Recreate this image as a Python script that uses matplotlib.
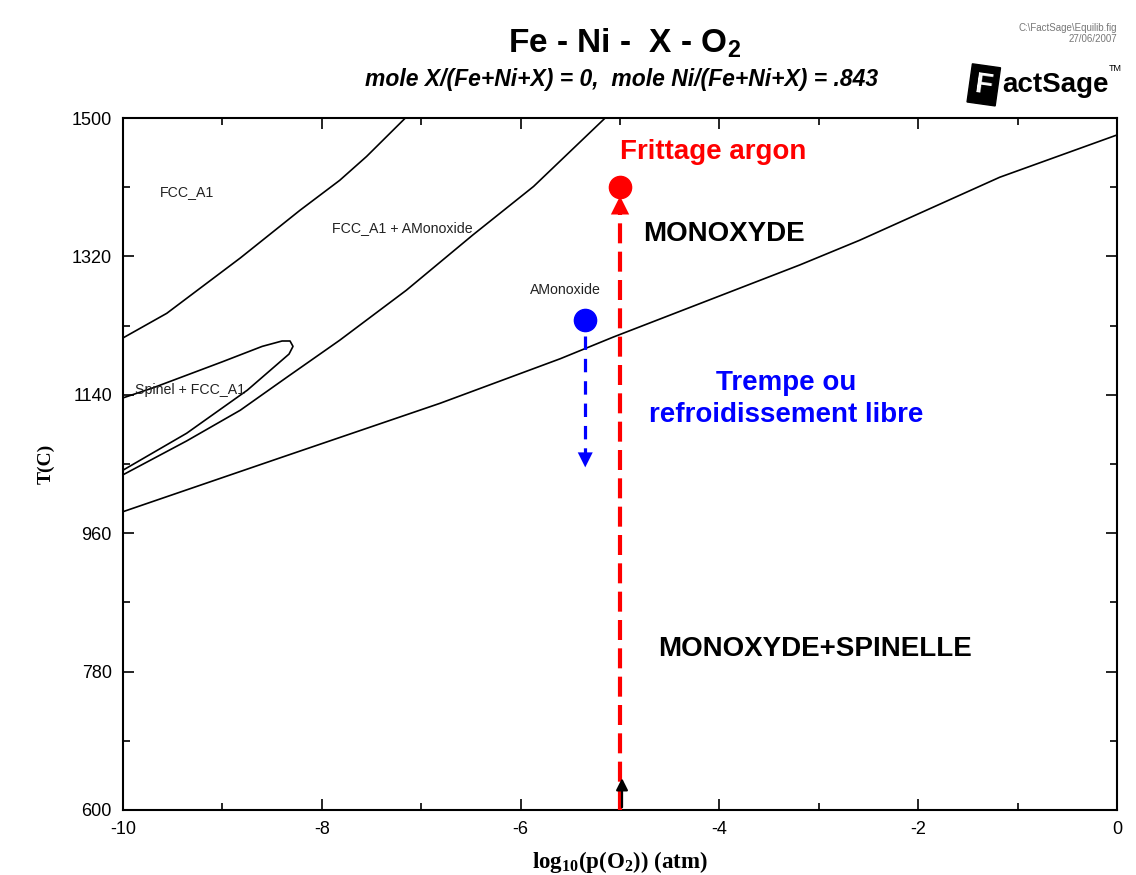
import matplotlib
matplotlib.use('Agg')
import matplotlib.pyplot as plt
from matplotlib.ticker import MultipleLocator

plt.rcParams['font.family'] = ['Liberation Sans', 'DejaVu Sans']
plt.rcParams['axes.unicode_minus'] = False
plt.rcParams['mathtext.fontset'] = 'custom'
plt.rcParams['mathtext.rm'] = 'Liberation Serif:bold'
plt.rcParams['mathtext.bf'] = 'Liberation Sans:bold'

# phase boundaries: log10(pO2), T(C)
fcc_x = [-10, -9.56, -8.82, -8.22, -7.82, -7.55, -7.16]
fcc_T = [1214, 1246, 1318, 1380, 1419, 1450, 1500]

mono_x = [-10, -9.36, -8.82, -8.35, -7.82, -7.15, -6.48, -5.87, -5.15]
mono_T = [1036, 1080, 1120, 1163, 1211, 1276, 1348, 1411, 1500]

spinel_x = [-10, -8.42, -6.81, -5.6, -5.07, -3.19, -2.59, -1.18, 0]
spinel_T = [988, 1058, 1129, 1187, 1215, 1309, 1341, 1423, 1478]

# small Spinel + FCC_A1 loop (upper branch, tip, lower branch)
loop_x = [-10, -9.7, -9.0, -8.6, -8.4, -8.32, -8.29, -8.33, -8.75, -9.36, -10]
loop_T = [1136, 1149, 1183, 1203, 1210, 1210, 1203, 1193, 1146, 1090, 1042]

# process paths
frittage_x = -5.0
frittage_T = [600, 1410]
trempe_x = -5.35
trempe_T = [1237, 1042]

fig = plt.figure(figsize=(11.36, 8.75), dpi=100)
ax = fig.add_axes([0.1083, 0.0743, 0.875, 0.7908])

for xs, ts in [(fcc_x, fcc_T), (mono_x, mono_T), (spinel_x, spinel_T), (loop_x, loop_T)]:
    ax.plot(xs, ts, color='black', lw=1.2, zorder=2)

ax.set_xlim(-10, 0)
ax.set_ylim(600, 1500)
ax.xaxis.set_major_locator(MultipleLocator(2))
ax.xaxis.set_minor_locator(MultipleLocator(1))
ax.yaxis.set_major_locator(MultipleLocator(180, offset=60))
ax.yaxis.set_minor_locator(MultipleLocator(90, offset=60))
ax.tick_params(which='both', direction='in', top=True, right=True, width=1.2)
ax.tick_params(which='major', length=8, labelsize=13, pad=8)
ax.tick_params(which='minor', length=5)
for s in ax.spines.values():
    s.set_linewidth(1.5)

ax.set_xlabel('log$_{10}$(p(O$_{2}$)) (atm)', family='Liberation Serif',
              fontweight='bold', fontsize=16.5, labelpad=8)
ax.set_ylabel('T(C)', family='Liberation Serif', fontweight='bold',
              fontsize=14, labelpad=12)

# phase labels
small = dict(fontsize=10.2, color='#222222', va='center', ha='left')
ax.text(-9.63, 1404, 'FCC_A1', **small)
ax.text(-7.90, 1357, 'FCC_A1 + AMonoxide', **small)
ax.text(-5.91, 1276, 'AMonoxide', **small)
ax.text(-9.88, 1146, 'Spinel + FCC_A1', **small)

# red sintering path
ax.plot([frittage_x, frittage_x], [frittage_T[0], frittage_T[1] - 30], color='red',
        lw=3, ls=(0, (4.8, 2)), zorder=4)
ax.annotate('', xy=(frittage_x, frittage_T[1] - 8), xytext=(frittage_x, frittage_T[1] - 40),
            arrowprops=dict(arrowstyle='-|>,head_length=0.6,head_width=0.3', color='red',
                            lw=0, mutation_scale=22), zorder=5)
ax.plot(frittage_x, frittage_T[1], 'o', color='red', ms=16, zorder=6)
ax.annotate('', xy=(frittage_x + 0.02, 645), xytext=(frittage_x + 0.02, 600),
            arrowprops=dict(arrowstyle='-|>,head_length=0.5,head_width=0.25', color='black',
                            lw=1.6, mutation_scale=14), zorder=5)

# blue quench path
ax.plot([trempe_x, trempe_x], [trempe_T[0] - 20, trempe_T[1] + 15], color='blue',
        lw=2.3, ls=(0, (4.2, 2.8)), zorder=4)
ax.annotate('', xy=(trempe_x, trempe_T[1]), xytext=(trempe_x, trempe_T[1] + 30),
            arrowprops=dict(arrowstyle='-|>,head_length=0.6,head_width=0.3', color='blue',
                            lw=0, mutation_scale=18), zorder=5)
ax.plot(trempe_x, trempe_T[0], 'o', color='blue', ms=16, zorder=6)

big = dict(fontsize=20, fontweight='bold', va='center', zorder=7)
ax.text(-5.0, 1456, 'Frittage argon', color='red', ha='left', **big)
ax.text(-4.77, 1349, 'MONOXYDE', color='black', ha='left', **big)
ax.text(-3.33, 1135, 'Trempe ou\nrefroidissement libre', color='blue', ha='center',
        linespacing=1.3, **big)
ax.text(-4.62, 809, 'MONOXYDE+SPINELLE', color='black', ha='left', **big)

# header
fig.text(0.550, 0.951, 'Fe - Ni -  X - O$_\\mathbf{2}$', fontsize=24, fontweight='bold',
         ha='center', va='center')
fig.text(0.5475, 0.9086, 'mole X/(Fe+Ni+X) = 0,  mole Ni/(Fe+Ni+X) = .843', fontsize=16.5,
         fontweight='bold', style='italic', ha='center', va='center')
fig.text(0.983, 0.968, 'C:\\FactSage\\Equilib.fig', fontsize=7, color='#777777',
         ha='right', va='center')
fig.text(0.983, 0.955, '27/06/2007', fontsize=7, color='#777777', ha='right', va='center')

# FactSage logo
fig.text(0.866, 0.903, 'F', color='white', fontsize=21, fontweight='bold', rotation=-8,
         ha='center', va='center',
         bbox=dict(facecolor='black', edgecolor='black', boxstyle='square,pad=0.18'))
fig.text(0.882, 0.903, 'actSage', fontsize=20, fontweight='bold', ha='left', va='center')
fig.text(0.976, 0.922, 'TM', fontsize=6.5, ha='left', va='center')

fig.savefig('out.png', dpi=100)
